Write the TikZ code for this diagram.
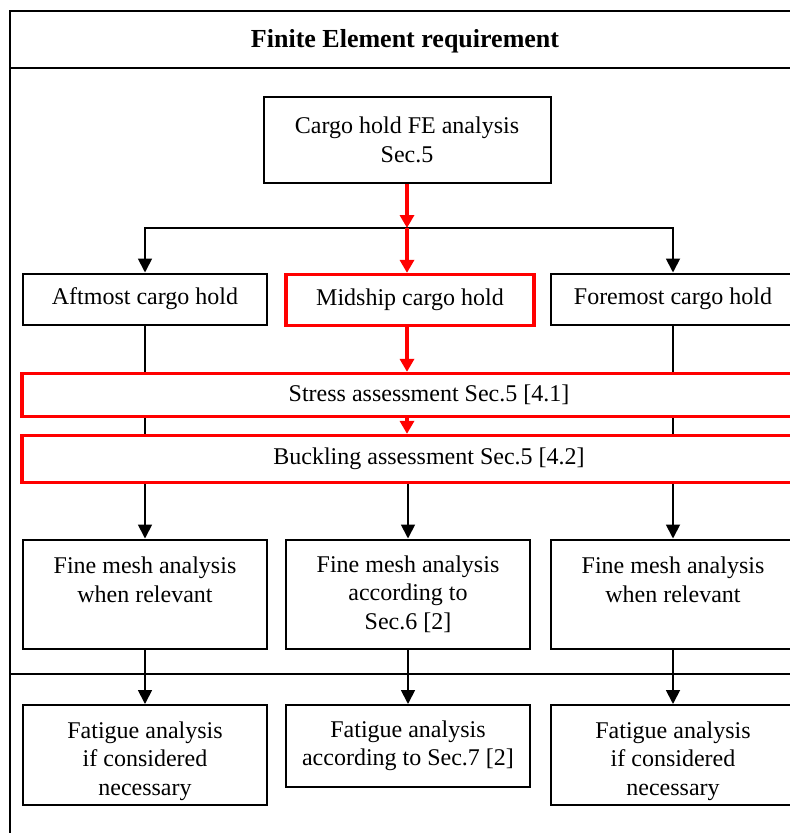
\documentclass[tikz,border=0pt]{standalone}
\usepackage{fontspec}
\setmainfont{Liberation Serif}
\usetikzlibrary{arrows.meta}
\newcommand{\lowr}{\rule{0pt}{29pt}}

\begin{document}
\begin{tikzpicture}[x=1pt, y=-1pt,
  box/.style={draw, line width=2pt, fill=white, inner sep=0pt, align=center,
    font=\fontsize{24}{28.5}\selectfont},
  redbox/.style={box, draw=red, line width=3.3pt},
  arr/.style={line width=1.8pt, -{Triangle[length=14pt,width=14pt]}},
  redarr/.style={red, line width=3.3pt, -{Triangle[length=13pt,width=14pt]}}]
  \useasboundingbox (0,0) rectangle (790,833);
  \clip (0,0) rectangle (790,833);

  % frame and title
  \draw[line width=1.5pt] (790,11) -- (10,11) -- (10,833);
  \draw[line width=1.5pt] (10,68) -- (790,68);
  \draw[line width=1.5pt] (10,674) -- (790,674);
  \node[font=\bfseries\fontsize{26}{30}\selectfont] (title) at (405,41) {Finite Element requirement};

  \node[box, minimum width=287pt, minimum height=86pt] (fe) at (407,140) {Cargo hold FE analysis\\Sec.5};
  \node[box, minimum width=244pt, minimum height=51pt] (aft) at (145,299) {Aftmost cargo hold};
  \node[redbox, minimum width=248pt, minimum height=51pt] (mid) at (410,300) {Midship cargo hold};
  \node[box, minimum width=244pt, minimum height=51pt] (fore) at (673,299) {Foremost cargo hold};

  \node[box, minimum width=244pt, minimum height=109pt] (fineL) at (145,594) {Fine mesh analysis\\when relevant\\\mbox{}};
  \node[box, minimum width=244pt, minimum height=109pt] (fineM) at (408,594) {Fine mesh analysis\\according to\\Sec.6 [2]};
  \node[box, minimum width=244pt, minimum height=109pt] (fineR) at (673,594) {Fine mesh analysis\\when relevant\\\mbox{}};

  \node[box, minimum width=244pt, minimum height=100pt] (fatL) at (145,755) {\lowr Fatigue analysis\\if considered\\necessary};
  \node[box, minimum width=244pt, minimum height=82pt] (fatM) at (408,746) {Fatigue analysis\\according to Sec.7 [2]};
  \node[box, minimum width=244pt, minimum height=100pt] (fatR) at (673,755) {\lowr Fatigue analysis\\if considered\\necessary};

  \coordinate (split) at (407,228);
  \draw[arr] (split) -| (aft);
  \draw[arr] (split) -| (fore);
  \draw[redarr] (fe) -- (split);
  \draw[redarr] (split) -- (split |- mid.north);
  \draw[arr] (aft) edge (fineL) (fore) edge (fineR);

  % assessments lie over the side lines
  \node[redbox, minimum width=814pt, minimum height=43pt] (stress) at (429,395) {Stress assessment Sec.5 [4.1]};
  \node[redbox, minimum width=814pt, minimum height=47pt] (buck) at (429,459) {Buckling assessment Sec.5 [4.2]};
  \draw[redarr] (split |- mid.south) -- (split |- stress.north);
  \draw[redarr] (split |- stress.south) -- (split |- buck.north);
  \draw[arr] (fineM.north |- buck.south) -- (fineM);

  \draw[arr] (fineL) edge (fatL) (fineM) edge (fatM) (fineR) edge (fatR);
\end{tikzpicture}
\end{document}
